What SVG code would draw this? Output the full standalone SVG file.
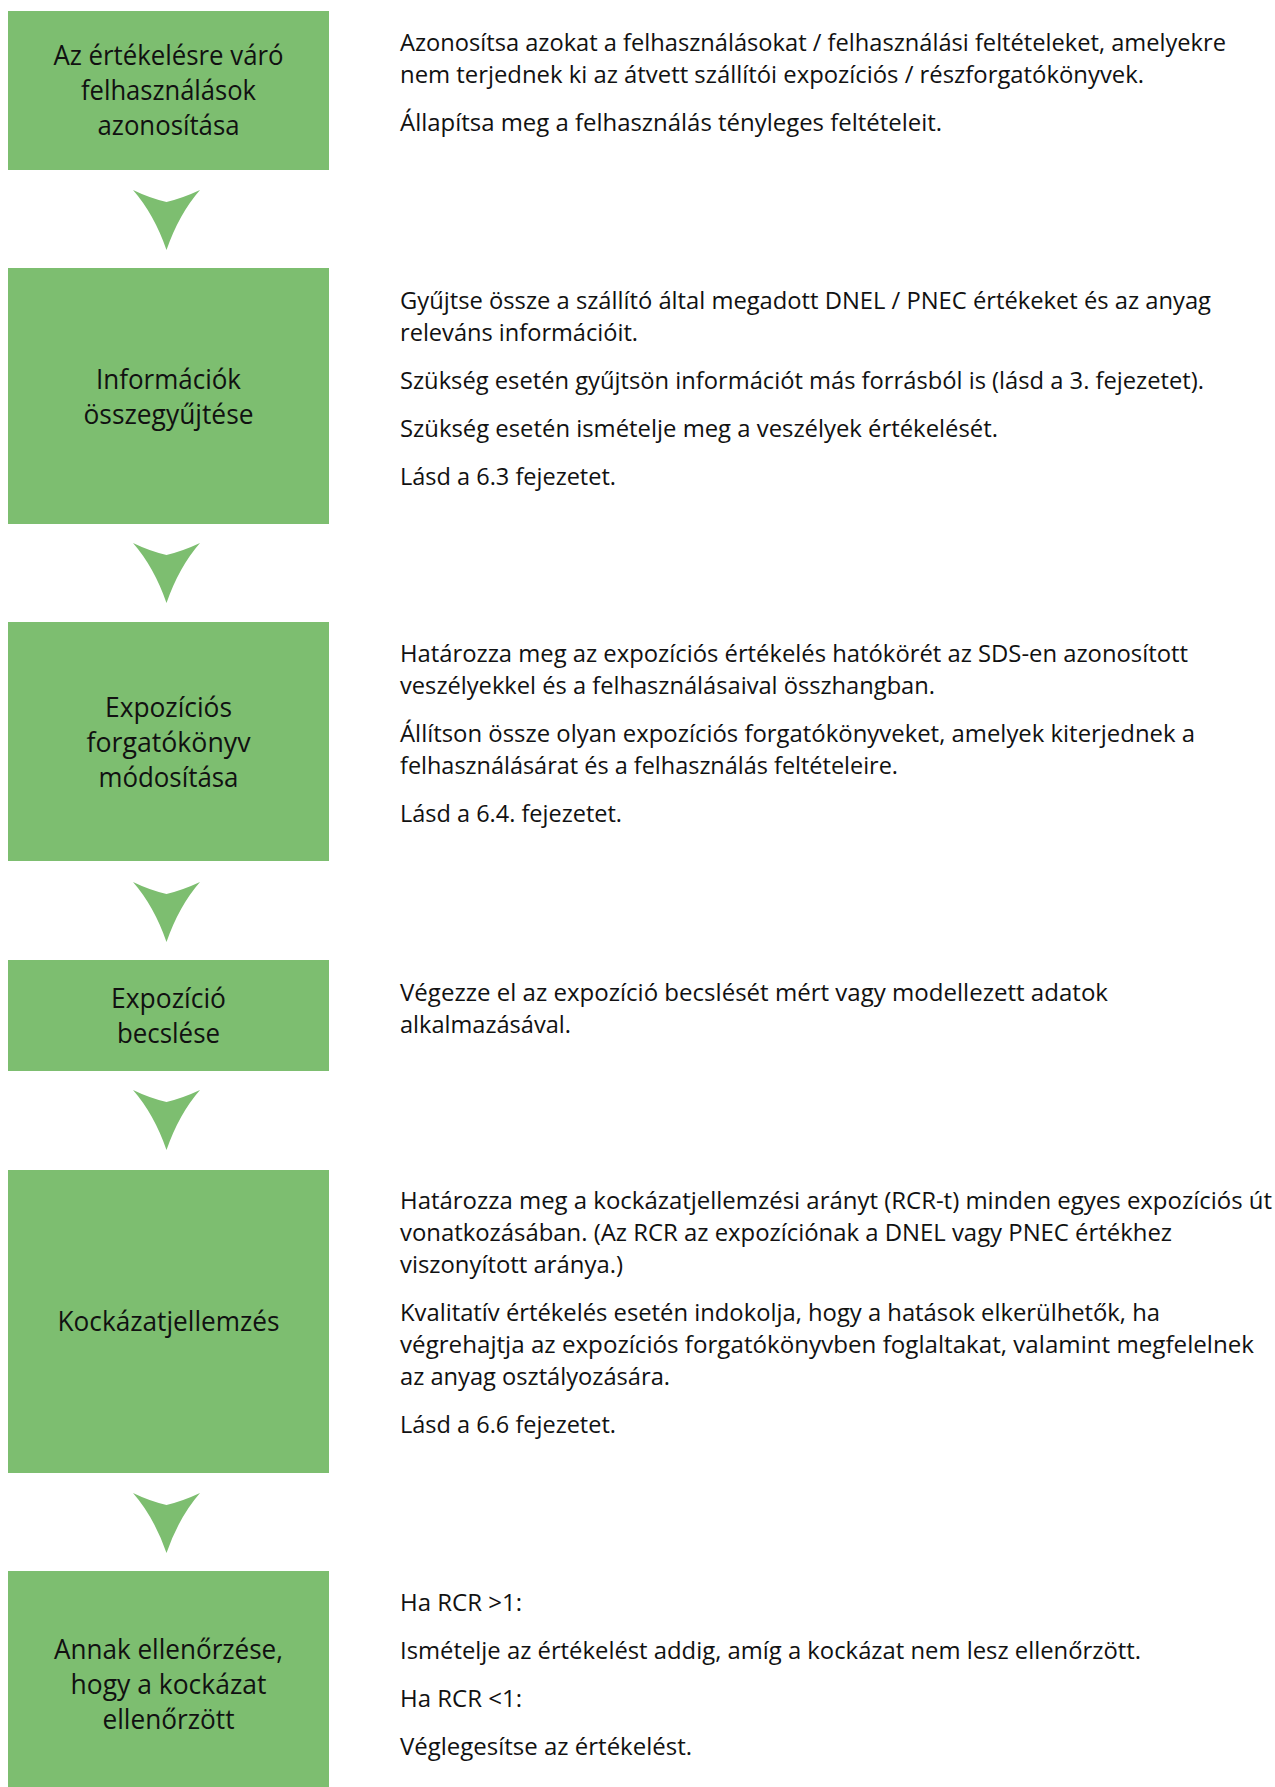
<svg xmlns="http://www.w3.org/2000/svg" width="1275" height="1787" viewBox="0 0 1275 1787">
<style>
.box{fill:#7dbe70}
.arr{fill:#7dbe70}
.lbl{font-family:"Open Sans","Noto Sans","Liberation Sans",sans-serif;font-size:27px;fill:#111;text-anchor:middle}
.txt{font-family:"Open Sans","Noto Sans","Liberation Sans",sans-serif;font-size:24px;fill:#111}
</style>
<defs>
<path id="arrow" d="M0,0 Q16.5,8 33.5,12 Q50,8 67,0 Q46,24 33.5,60 Q21,24 0,0 Z"/>
</defs>
<rect width="1275" height="1787" fill="#fff"/>
<g id="connectors">
<use href="#arrow" class="arr" x="133" y="190"/>
<use href="#arrow" class="arr" x="133" y="543"/>
<use href="#arrow" class="arr" x="133" y="882"/>
<use href="#arrow" class="arr" x="133" y="1090"/>
<use href="#arrow" class="arr" x="133" y="1493"/>
</g>
<g id="node1">
<rect class="box" x="8" y="11" width="321" height="159"/>
<text class="lbl" x="168.5" y="65" textLength="230" lengthAdjust="spacingAndGlyphs">Az értékelésre váró</text>
<text class="lbl" x="168.5" y="100" textLength="175" lengthAdjust="spacingAndGlyphs">felhasználások</text>
<text class="lbl" x="168.5" y="135" textLength="142" lengthAdjust="spacingAndGlyphs">azonosítása</text>
</g>
<g id="desc1">
<text class="txt" x="400" y="51" textLength="826" lengthAdjust="spacingAndGlyphs">Azonosítsa azokat a felhasználásokat / felhasználási feltételeket, amelyekre</text>
<text class="txt" x="400" y="83" textLength="744" lengthAdjust="spacingAndGlyphs">nem terjednek ki az átvett szállítói expozíciós / részforgatókönyvek.</text>
<text class="txt" x="400" y="131" textLength="542" lengthAdjust="spacingAndGlyphs">Állapítsa meg a felhasználás tényleges feltételeit.</text>
</g>
<g id="node2">
<rect class="box" x="8" y="268" width="321" height="256"/>
<text class="lbl" x="168.5" y="389" textLength="145" lengthAdjust="spacingAndGlyphs">Információk</text>
<text class="lbl" x="168.5" y="424" textLength="170" lengthAdjust="spacingAndGlyphs">összegyűjtése</text>
</g>
<g id="desc2">
<text class="txt" x="400" y="309" textLength="811" lengthAdjust="spacingAndGlyphs">Gyűjtse össze a szállító által megadott DNEL / PNEC értékeket és az anyag</text>
<text class="txt" x="400" y="341" textLength="238" lengthAdjust="spacingAndGlyphs">releváns információit.</text>
<text class="txt" x="400" y="389" textLength="804" lengthAdjust="spacingAndGlyphs">Szükség esetén gyűjtsön információt más forrásból is (lásd a 3. fejezetet).</text>
<text class="txt" x="400" y="437" textLength="598" lengthAdjust="spacingAndGlyphs">Szükség esetén ismételje meg a veszélyek értékelését.</text>
<text class="txt" x="400" y="485" textLength="216" lengthAdjust="spacingAndGlyphs">Lásd a 6.3 fejezetet.</text>
</g>
<g id="node3">
<rect class="box" x="8" y="622" width="321" height="239"/>
<text class="lbl" x="168.5" y="717" textLength="127" lengthAdjust="spacingAndGlyphs">Expozíciós</text>
<text class="lbl" x="168.5" y="752" textLength="164" lengthAdjust="spacingAndGlyphs">forgatókönyv</text>
<text class="lbl" x="168.5" y="787" textLength="140" lengthAdjust="spacingAndGlyphs">módosítása</text>
</g>
<g id="desc3">
<text class="txt" x="400" y="662" textLength="788" lengthAdjust="spacingAndGlyphs">Határozza meg az expozíciós értékelés hatókörét az SDS-en azonosított</text>
<text class="txt" x="400" y="694" textLength="535" lengthAdjust="spacingAndGlyphs">veszélyekkel és a felhasználásaival összhangban.</text>
<text class="txt" x="400" y="742" textLength="795" lengthAdjust="spacingAndGlyphs">Állítson össze olyan expozíciós forgatókönyveket, amelyek kiterjednek a</text>
<text class="txt" x="400" y="774" textLength="498" lengthAdjust="spacingAndGlyphs">felhasználásárat és a felhasználás feltételeire.</text>
<text class="txt" x="400" y="822" textLength="222" lengthAdjust="spacingAndGlyphs">Lásd a 6.4. fejezetet.</text>
</g>
<g id="node4">
<rect class="box" x="8" y="960" width="321" height="111"/>
<text class="lbl" x="168.5" y="1008" textLength="115" lengthAdjust="spacingAndGlyphs">Expozíció</text>
<text class="lbl" x="168.5" y="1043" textLength="103" lengthAdjust="spacingAndGlyphs">becslése</text>
</g>
<g id="desc4">
<text class="txt" x="400" y="1001" textLength="708" lengthAdjust="spacingAndGlyphs">Végezze el az expozíció becslését mért vagy modellezett adatok</text>
<text class="txt" x="400" y="1033" textLength="171" lengthAdjust="spacingAndGlyphs">alkalmazásával.</text>
</g>
<g id="node5">
<rect class="box" x="8" y="1170" width="321" height="303"/>
<text class="lbl" x="168.5" y="1331" textLength="222" lengthAdjust="spacingAndGlyphs">Kockázatjellemzés</text>
</g>
<g id="desc5">
<text class="txt" x="400" y="1209" textLength="872" lengthAdjust="spacingAndGlyphs">Határozza meg a kockázatjellemzési arányt (RCR-t) minden egyes expozíciós út</text>
<text class="txt" x="400" y="1241" textLength="772" lengthAdjust="spacingAndGlyphs">vonatkozásában. (Az RCR az expozíciónak a DNEL vagy PNEC értékhez</text>
<text class="txt" x="400" y="1273" textLength="223" lengthAdjust="spacingAndGlyphs">viszonyított aránya.)</text>
<text class="txt" x="400" y="1321" textLength="760" lengthAdjust="spacingAndGlyphs">Kvalitatív értékelés esetén indokolja, hogy a hatások elkerülhetők, ha</text>
<text class="txt" x="400" y="1353" textLength="854" lengthAdjust="spacingAndGlyphs">végrehajtja az expozíciós forgatókönyvben foglaltakat, valamint megfelelnek</text>
<text class="txt" x="400" y="1385" textLength="270" lengthAdjust="spacingAndGlyphs">az anyag osztályozására.</text>
<text class="txt" x="400" y="1433" textLength="216" lengthAdjust="spacingAndGlyphs">Lásd a 6.6 fejezetet.</text>
</g>
<g id="node6">
<rect class="box" x="8" y="1571" width="321" height="216"/>
<text class="lbl" x="168.5" y="1659" textLength="229" lengthAdjust="spacingAndGlyphs">Annak ellenőrzése,</text>
<text class="lbl" x="168.5" y="1694" textLength="196" lengthAdjust="spacingAndGlyphs">hogy a kockázat</text>
<text class="lbl" x="168.5" y="1729" textLength="132" lengthAdjust="spacingAndGlyphs">ellenőrzött</text>
</g>
<g id="desc6">
<text class="txt" x="400" y="1611" textLength="122" lengthAdjust="spacingAndGlyphs">Ha RCR &gt;1:</text>
<text class="txt" x="400" y="1659" textLength="741" lengthAdjust="spacingAndGlyphs">Ismételje az értékelést addig, amíg a kockázat nem lesz ellenőrzött.</text>
<text class="txt" x="400" y="1707" textLength="122" lengthAdjust="spacingAndGlyphs">Ha RCR &lt;1:</text>
<text class="txt" x="400" y="1755" textLength="292" lengthAdjust="spacingAndGlyphs">Véglegesítse az értékelést.</text>
</g>
</svg>
